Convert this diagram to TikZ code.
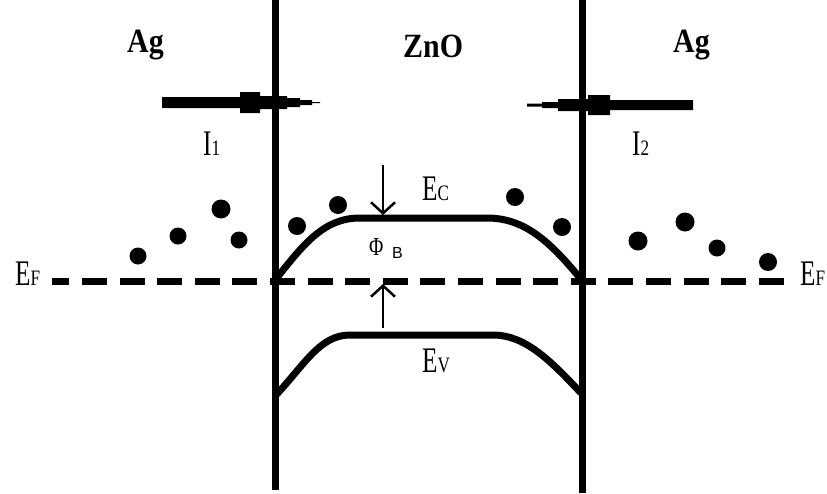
\documentclass[tikz,border=0pt]{standalone}
\usepackage{fontspec}
\setmainfont{Liberation Serif}
\newfontfamily\sansB{Liberation Sans}
\usetikzlibrary{arrows.meta}
\newcommand\biglbl[2]{\scalebox{0.7}[1]{\fontsize{36}{36}\selectfont #1}\scalebox{0.78}[1]{\fontsize{22}{22}\selectfont #2}}
\newcommand\metal[1]{\scalebox{0.88}[1]{\fontsize{34}{34}\selectfont\bfseries #1}}
\begin{document}
\begin{tikzpicture}[x=1pt,y=-1pt,
  wall/.style={line width=7pt},
  band/.style={line width=7pt,line join=round},
  fermi/.style={line width=7pt,dash pattern=on 25pt off 12.6pt,dash phase=7.6pt},
  carrier/.style={fill=black},
  lbl/.style={inner sep=0pt,anchor=base west},
  thinarrow/.style={line width=2.5pt,-{Straight Barb[length=11pt,width=24pt,line width=2.5pt]}}]
\useasboundingbox (0,0) rectangle (827,493);
% walls
\draw[wall] (275,0) coordinate (wlt) -- (275,490) coordinate (wlb);
\draw[wall] (582,0) coordinate (wrt) -- (582,493) coordinate (wrb);
% Fermi level
\draw[fermi] (52,281) coordinate (fl) -- (785,281) coordinate (fr);
% conduction band
\draw[band] (276,279) .. controls (305,242) and (325,218) .. (360,218) -- (487,218) .. controls (525,218) and (550,242) .. (580,278);
% valence band
\draw[band] (276,395) .. controls (305,364) and (320,335) .. (350,335) -- (493,335) .. controls (525,335) and (550,360) .. (581,393);
% barrier arrows
\coordinate (pt1) at (383,165);
\coordinate (ph1) at (383,215);
\coordinate (pt2) at (383,328);
\coordinate (ph2) at (383,284);
\draw[thinarrow] (pt1) -- (ph1);
\draw[thinarrow] (pt2) -- (ph2);
% current arrows
\fill (162,97) -- (240,97) -- (240,92) -- (260,92) -- (260,96) -- (287,96) -- (287,98) -- (300,98) -- (300,100) -- (312,100) -- (312,102) -- (320,102)
  -- (320,103) -- (312,103) -- (312,105) -- (300,105) -- (300,107) -- (287,107) -- (287,109) -- (260,109) -- (260,113) -- (240,113) -- (240,108) -- (162,108) -- cycle;
\fill (693,100) -- (610,100) -- (610,95) -- (588,95) -- (588,99) -- (558,99) -- (558,102) -- (542,102) -- (542,103.5) -- (527,103.5)
  -- (527,106.5) -- (542,106.5) -- (542,108) -- (558,108) -- (558,111) -- (588,111) -- (588,115) -- (610,115) -- (610,110) -- (693,110) -- cycle;
% carriers
\foreach \x/\y/\r in {138/256/8.5,178/236/8.5,221/209/9.5,239/240/8.5,
  297/226/9,338/205/9,515/197/9,562/227/9,
  638/241/9.5,685/222/9.5,717/248/8.5,768/262/9}
  \fill[carrier] (\x,\y) circle (\r);
% labels
\node[lbl] (ag1) at (127,52) {\metal{Ag}};
\node[lbl] (zno) at (403,57) {\metal{ZnO}};
\node[lbl] (ag2) at (673,52) {\metal{Ag}};
\node[lbl] (i1) at (203,155) {\biglbl{I}{1}};
\node[lbl] (i2) at (632,155) {\biglbl{I}{2}};
\node[lbl] (ec) at (422,200) {\biglbl{E}{C}};
\node[lbl] (ev) at (422,372) {\biglbl{E}{V}};
\node[lbl] (efl) at (15,285) {\biglbl{E}{F}};
\node[lbl] (efr) at (800,285) {\biglbl{E}{F}};
\node[lbl] (phi) at (369,255) {\scalebox{0.75}[1]{\fontsize{26}{26}\selectfont Φ}};
\node[lbl] (phib) at (392,258) {\fontsize{16}{16}\selectfont\sansB B};
\end{tikzpicture}
\end{document}
